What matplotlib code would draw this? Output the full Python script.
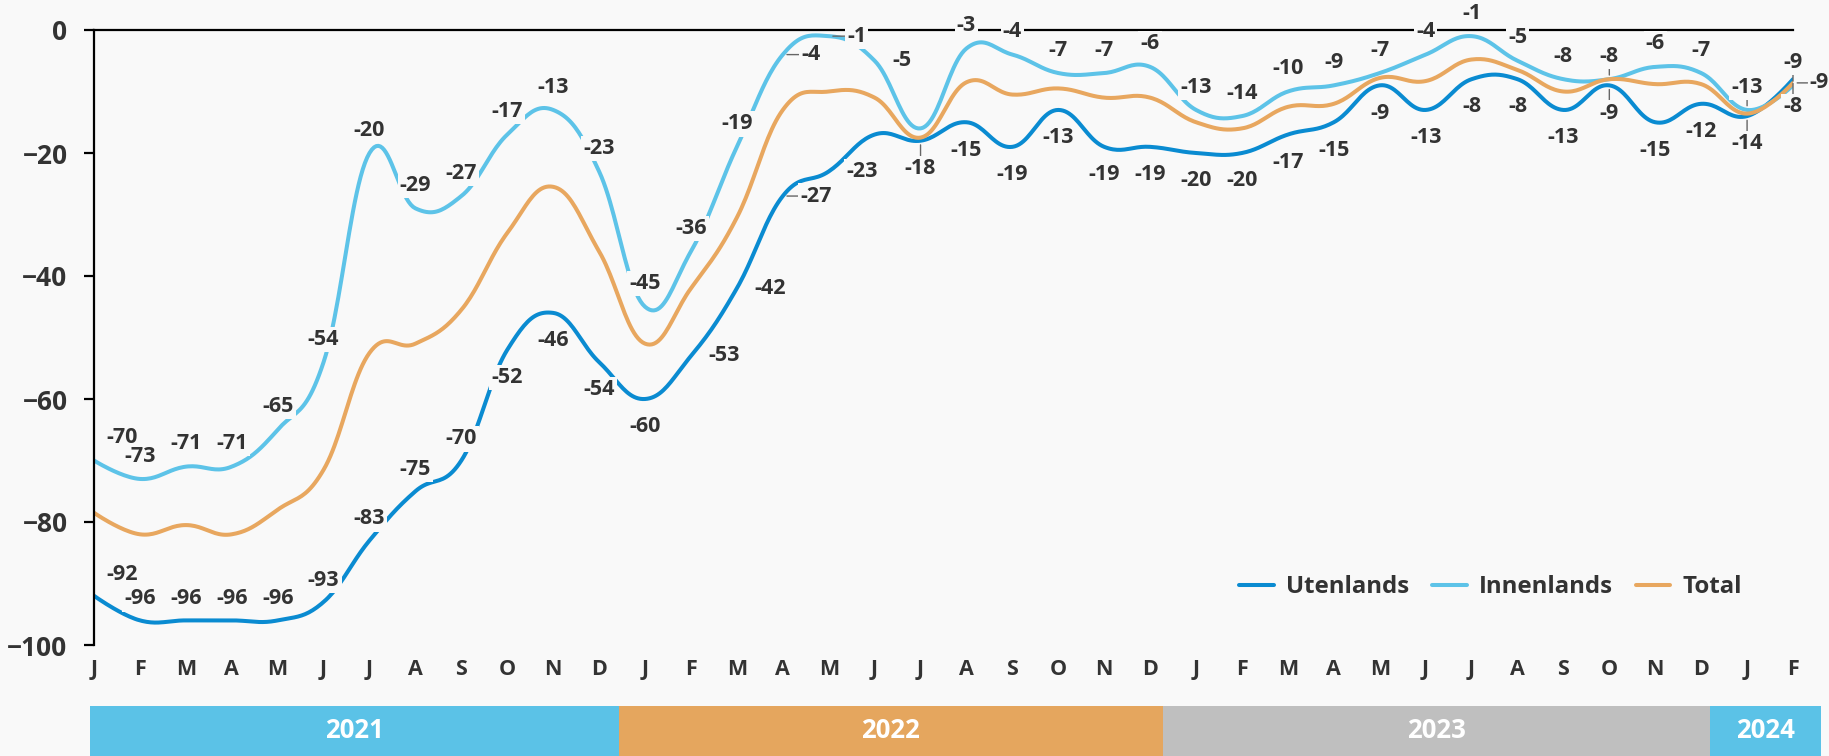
import numpy as np
import matplotlib.pyplot as plt

# --- data -----------------------------------------------------------------
months = ["J", "F", "M", "A", "M", "J", "J", "A", "S", "O", "N", "D"] * 3 + ["J", "F"]
years = ["2021", "2022", "2023", "2024"]

utenlands = [-92, -96, -96, -96, -96, -93, -83, -75, -70, -52, -46, -54,
             -60, -53, -42, -27, -23, -17, -18, -15, -19, -13, -19, -19,
             -20, -20, -17, -15, -9, -13, -8, -8, -13, -9, -15, -12,
             -14, -8]
innenlands = [-70, -73, -71, -71, -65, -54, -20, -29, -27, -17, -13, -23,
              -45, -36, -19, -4, -1, -5, -16, -3, -4, -7, -7, -6,
              -13, -14, -10, -9, -7, -4, -1, -5, -8, -8, -6, -7,
              -13, -9]
total = [-78.5, -82, -80.5, -82, -78, -71.5, -52.5, -51, -45.5, -33, -25.5, -36,
         -51, -42, -30.5, -13, -10, -11, -17.5, -8.5, -10.5, -9.5, -11, -11,
         -15, -16, -12.5, -12, -7.8, -8.3, -4.8, -6.5, -10, -8, -8.8, -8.8,
         -13.6, -8.6]

# --- style / layout ----------------------------------------------------------
BG = "#f9f9f9"
TXT = "#333333"
C_UTE = "#0a8bd1"
C_INN = "#5dc3e8"
C_TOT = "#e8a75f"
YEAR_COLORS = ["#5bc2e7", "#e5a65e", "#bfbfbf", "#5bc2e7"]
YEAR_EDGES = [-0.08, 11.44, 23.27, 35.2, 37.6]

# label placement: default side per series, plus exceptions
UTE_ABOVE = range(0, 9)
UTE_RIGHT = (13, 14, 15, 16)
UTE_SKIP = (17,)
UTE_LEADER = (15, 18, 33, 36, 37)
INN_RIGHT = (15, 16, 17)
INN_SKIP = (18,)
INN_LEADER = (15, 16, 33, 36, 37)

plt.rcParams["font.family"] = ["Open Sans", "DejaVu Sans"]
plt.rcParams["font.weight"] = "bold"


def spline(ys, n=24):
    """Smoothed curve through the points (x = index), Highcharts-style tangents."""
    ys = np.asarray(ys, dtype=float)
    xs = np.arange(len(ys), dtype=float)
    k = len(ys)
    lc = np.zeros((k, 2))
    rc = np.zeros((k, 2))
    for i in range(k):
        if i == 0 or i == k - 1:
            lc[i] = rc[i] = (xs[i], ys[i])
            continue
        lx = (1.5 * xs[i] + xs[i - 1]) / 2.5
        ly = (1.5 * ys[i] + ys[i - 1]) / 2.5
        rx = (1.5 * xs[i] + xs[i + 1]) / 2.5
        ry = (1.5 * ys[i] + ys[i + 1]) / 2.5
        corr = (ry - ly) * (rx - xs[i]) / (rx - lx) + ys[i] - ry
        lc[i] = (lx, ly + corr)
        rc[i] = (rx, ry + corr)
    t = np.linspace(0, 1, n)[:, None]
    out = []
    for i in range(1, k):
        p0 = np.array([xs[i - 1], ys[i - 1]])
        p3 = np.array([xs[i], ys[i]])
        p1, p2 = rc[i - 1], lc[i]
        seg = ((1 - t) ** 3) * p0 + 3 * ((1 - t) ** 2) * t * p1 + 3 * (1 - t) * t ** 2 * p2 + t ** 3 * p3
        out.append(seg if i == 1 else seg[1:])
    pts = np.vstack(out)
    return pts[:, 0], pts[:, 1]


fig = plt.figure(figsize=(18.29, 7.56), dpi=100, facecolor=BG)
ax = fig.add_axes([94 / 1829, 1 - 645 / 756, (1793 - 94) / 1829, 615 / 756], facecolor=BG)

handles = []
for name, vals, col in [("Utenlands", utenlands, C_UTE),
                        ("Innenlands", innenlands, C_INN),
                        ("Total", total, C_TOT)]:
    sx, sy = spline(vals)
    h, = ax.plot(sx, sy, color=col, lw=2.9, solid_capstyle="round", label=name, zorder=2)
    handles.append(h)

lbl_kw = dict(textcoords="offset points", fontsize=15.5, color=TXT, fontweight="bold",
              ha="center", va="center", zorder=5,
              bbox=dict(boxstyle="square,pad=0.1", fc=BG, ec="none"))
leader = dict(arrowstyle="-", color="#666666", lw=1.0, shrinkA=0, shrinkB=3)


def put_label(i, v, off, with_leader):
    kw = dict(lbl_kw)
    if with_leader:
        kw["arrowprops"] = leader
    ax.annotate(f"{round(v)}", (i, v), xytext=off, **kw)


for i, v in enumerate(utenlands):
    if i in UTE_SKIP:
        continue
    if i in UTE_ABOVE:
        off = (0, 15.5)
    elif i in UTE_RIGHT:
        off = (24, 0)
    else:
        off = (0, -20)
    if i == 0:
        off = (off[0] + 20, off[1])
    put_label(i, v, off, i in UTE_LEADER)

for i, v in enumerate(innenlands):
    if i in INN_SKIP:
        continue
    off = (20, 0) if i in INN_RIGHT else (0, 16.5)
    if i == 0:
        off = (off[0] + 20, off[1])
    put_label(i, v, off, i in INN_LEADER)

last = len(total) - 1
put_label(last, total[last], (19, 0), True)

ax.set_xlim(0, len(months) - 1)
ax.set_ylim(-100, 0)
ax.set_yticks(range(-100, 1, 20))
ax.set_xticks(range(len(months)))
ax.set_xticklabels(months)
ax.tick_params(axis="x", length=0, pad=10, labelsize=15.5, labelcolor=TXT)
ax.tick_params(axis="y", length=7, width=1.6, pad=12, labelsize=19, labelcolor=TXT)
for s in ("right", "bottom"):
    ax.spines[s].set_visible(False)
for s in ("left", "top"):
    ax.spines[s].set_linewidth(1.6)
    ax.spines[s].set_color("black")

ax.legend(handles=handles, loc="center", bbox_to_anchor=(0.822, 0.094), ncol=3,
          frameon=False, fontsize=17.3, handlelength=1.45, handletextpad=0.5,
          columnspacing=0.95, labelcolor=TXT)

# year band below the month labels
bar = fig.add_axes([94 / 1829, 0, (1793 - 94) / 1829, 50 / 756], facecolor=BG)
bar.set_xlim(0, len(months) - 1)
bar.set_ylim(0, 1)
bar.axis("off")
for y, c, a, b in zip(years, YEAR_COLORS, YEAR_EDGES[:-1], YEAR_EDGES[1:]):
    bar.bar((a + b) / 2, 1, width=b - a, bottom=0, color=c, clip_on=False)
    bar.text((a + b) / 2, 0.5, y, ha="center", va="center", color="white",
             fontsize=18.5, fontweight="bold")

fig.savefig("out.png", dpi=100, facecolor=BG)
